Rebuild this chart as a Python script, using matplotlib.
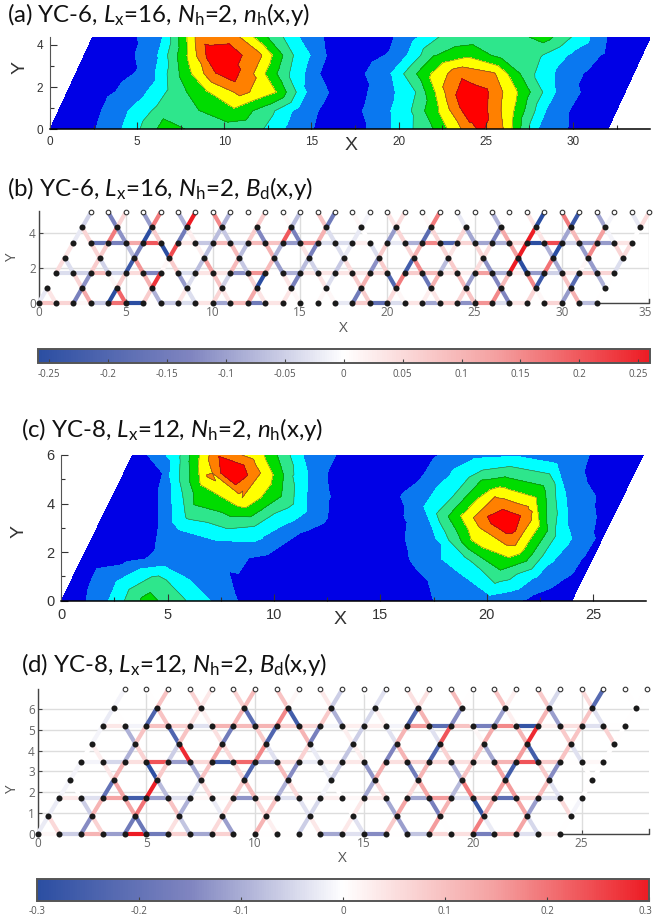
import numpy as np
import matplotlib
matplotlib.use("Agg")
import matplotlib.pyplot as plt
from matplotlib.collections import LineCollection
from matplotlib.colors import LinearSegmentedColormap, Normalize
from matplotlib.cm import ScalarMappable
from matplotlib.ticker import MultipleLocator
from matplotlib.transforms import ScaledTranslation

# hole density, bottom row first, u = 0, 2, 4, ...
a_rows = [
    [0.0, 0.6, 1.9, 3.8, 3.9, 3.5, 3.2, 1.5, 0.6, 0.9, 2.3, 4.0, 6.5, 6.0, 2.0, 0.8, 0.0],
    [0.2, 0.7, 2.0, 3.5, 3.95, 4.8, 3.4, 1.4, 0.5, 1.2, 2.7, 5.3, 7.8, 5.2, 1.9, 0.5, 0.0],
    [0.4, 0.7, 1.5, 3.3, 4.9, 6.3, 5.0, 1.5, 0.5, 1.3, 3.0, 6.6, 7.2, 4.8, 2.0, 0.6, 0.0],
    [0.3, 0.6, 1.2, 4.1, 6.9, 6.3, 3.3, 1.0, 0.6, 1.9, 4.6, 6.7, 6.1, 3.3, 1.5, 0.6, 0.0],
    [0.2, 0.5, 1.6, 5.2, 7.8, 6.3, 3.0, 0.9, 0.5, 1.3, 3.9, 4.8, 3.6, 3.2, 1.8, 0.8, 0.0],
    [0.2, 0.6, 2.0, 6.3, 6.5, 4.0, 1.8, 0.5, 0.3, 1.4, 3.1, 3.4, 3.6, 4.4, 2.5, 0.5, 0.0],
]
a_peak_x = [9.8, 24.4, 24.7, 6.5, 6.5]
a_peak_y = [3.3, 1.2, 0.0, 0.0, 0.5]
a_peak_z = [8.5, 8.5, 7.2, 4.6, 4.0]

c_rows = [
    [0.0, 1.7, 4.4, 2.9, 1.1, 0.4, 0.2, 0.2, 0.4, 1.2, 1.9, 0.8, 0.0],
    [0.3, 1.8, 3.4, 1.6, 0.8, 0.3, 0.2, 0.2, 0.7, 1.5, 3.2, 1.6, 0.5],
    [0.3, 0.7, 1.3, 1.3, 0.9, 0.3, 0.2, 0.3, 1.3, 2.8, 4.9, 2.2, 0.6],
    [0.2, 0.5, 1.9, 2.1, 2.0, 0.8, 0.2, 0.6, 1.7, 5.4, 6.2, 2.5, 0.7],
    [0.2, 0.6, 3.1, 3.9, 2.8, 1.3, 0.3, 0.8, 3.5, 6.9, 6.5, 1.8, 0.5],
    [0.2, 0.7, 4.3, 5.7, 3.9, 1.1, 0.3, 1.2, 3.0, 6.0, 4.9, 1.4, 0.3],
    [0.1, 1.5, 6.1, 6.8, 3.0, 0.8, 0.2, 0.9, 2.5, 3.9, 3.2, 0.8, 0.2],
    [0.2, 2.5, 6.9, 5.3, 2.0, 0.7, 0.2, 0.8, 1.8, 1.9, 1.8, 0.7, 0.0],
]
c_peak_x = [8.0, 20.9, 20.03, 20.75, 21.59, 21.36, 19.37, 20.47, 22.14, 21.33, 19.65, 18.77, 20.18, 22.35, 22.42,
            20.94, 19.13, 18.19, 19.76, 22.77, 22.82, 20.65, 18.82, 17.64, 19.81, 23.21, 23.26, 20.39, 18.04,
            17.05, 19.45, 23.29, 23.71, 20.15, 17.49,
            7.1, 9.37, 8.5, 6.43, 9.96, 8.3, 6.53, 6.04, 10.45, 8.49, 6.24, 5.55, 10.94, 9.08, 5.84,
            5.16, 11.59, 9.47, 7.5, 5.55, 12.5, 11.2, 9.67, 4.57, 4.76]
c_peak_y = [5.26, 3.4, 3.46, 3.76, 3.50, 2.88, 3.42, 4.24, 3.66, 2.26, 3.02, 3.48, 4.58, 4.05, 3.59,
            1.81, 2.91, 3.46, 4.97, 4.49, 3.73, 1.26, 2.43, 3.59, 5.38, 4.83, 4.14, 0.71, 2.84,
            3.87, 5.86, 5.65, 4.42, 0.23, 2.91,
            5.26, 5.26, 4.23, 5.54, 5.19, 3.88, 4.78, 5.26, 5.19, 3.47, 3.95, 4.99, 5.19, 3.06, 3.47,
            4.85, 5.26, 2.64, 2.48, 2.92, 5.26, 2.78, 1.89, 3.06, 5.26]
c_peak_z = [8.3, 8.3, 7, 7, 7, 7, 6, 6, 6, 6, 6, 5, 5, 5, 5,
            5, 5, 4, 4, 4, 4, 4, 4, 3, 3, 3, 3, 3, 3,
            2, 2, 2, 2, 2, 2,
            6, 6, 6, 5, 5, 5, 5, 4, 4, 4, 4, 3, 3, 3, 3,
            2, 2, 2, 2, 2, 1, 1, 1, 1, 1]

# bond strength, horizontal rows then zig-zag layers
b_h0 = [7, 5, 1, -5, 15, -24, 0, -5, -3, 3, -8, 8, -13, 3, 0, 0, 0, -2, 6, -15, -3, 3, -8, 6, -10, 12, -3, 3, 0, 5, 0, -6]
b_h1 = [-3, -4, 8, -4, 4, -11, 0, -3, 3, 3, -10, 12, 0, -7, 3, 3, 3, 3, 4, 0, 6, 8, 3, 2, 11, -7, 2, -9, -4, 3, 6, 5]
b_h2 = [0, -14, -12, 10, 17, 0, 3, -5, 8, -4, 8, 7, -9, 12, -3, -3, 2, 0, -2, -7, 13, -17, 5, -8, -7, 4, -24, 18, -4, -9, -9, 3]
b_d0 = [-2, 3, -12, 10, -24, 16, 6, -7, 3, -3, 5, 3, 10, 3, 3, 1, 1, 1, -13, 6, 4, 1, 2, 3, 5, 7, 13, -11, 5, 1, -9, 9, 0]
b_d1 = [0, 5, -10, 1, 6, 9, 20, -9, -3, 7, -4, 5, -24, 3, -12, 3, -3, 6, 9, -17, 14, -14, 9, 8, -9, -11, 8, 13, -20, 7, -16, -7, 0]
b_d2 = [4, -3, 6, -4, -20, 12, 1, 6, -6, 11, 8, -5, 8, -9, -6, -4, -5, 4, -10, 6, -19, 13, -6, 6, 4, -10, 25, -22, 15, -8, 1, -9, -3]
b_d3 = [3, 5, 6, -6, -12, -22, 18, 2, -6, 8, -6, 9, -7, 3, -12, -3, -2, -3, 6, 5, 9, 5, 3, 5, 4, 11, 24, -7, -22, -9, 13, 5, 4]
b_d4 = [-2, 5, 14, -10, -23, 6, -13, 2, -6, -5, 6, -11, 17, -12, 9, -3, -2, 0, -9, 5, -16, 5, 5, -8, -12, 10, 25, 3, -8, 8, 11, -1, 0]
b_d5 = [-4, -12, 5, -9, 14, -7, 25, 13, -7, 0, 6, 1, -6, 7, -13, 1, -1, 3, 4, 1, 14, -2, 0, -7, 0, 3, -22, 14, -20, -8, -1, -2, 4]

d_h0 = [1, -5, 10, -10, 30, -15, 6, -9, 6, 0, 0, 0, 0, -9, -3, -12, 0, -6, 5, 4, -14, 10, -3, 2]
d_h1 = [3, -3, 12, -22, -10, -3, 1, 1, -11, 3, -3, 1, 2, 1, 3, 0, -9, 13, -3, 7, -18, 5, -3, 0]
d_h2 = [-1, -4, 4, 20, -10, 5, -22, 18, -10, 4, -2, 2, 3, 0, 4, 6, 5, 4, 3, 10, 20, 7, 0, 1]
d_h3 = [3, -1, 8, 6, -3, 10, 9, 10, 6, 5, -1, 2, 2, -1, 13, -18, 8, -14, 15, -24, 2, 4, -3, 0]
d_d0 = [-2, 5, -12, 6, -15, -16, 4, -6, 5, -10, 10, 2, -5, 3, 3, -3, 7, -10, 13, 0, 16, -2, 12, -4, 0]
d_d1 = [-2, -5, 10, 12, 17, 8, -8, -2, 5, 5, 8, -3, -4, 0, 3, -9, 12, -14, 10, -24, 11, 12, -10, 5, -1]
d_d2 = [-1, 0, -17, 12, 25, -7, -4, 5, 7, 9, -8, 5, -1, 0, -9, 5, 5, 12, -7, 16, 13, 13, 9, -3, 0]
d_d3 = [-1, 3, 10, -25, 7, -9, 8, 5, -20, 9, -12, -2, -5, -11, 11, -15, 10, -8, 8, 12, -22, 7, -12, 0, 0]
d_d4 = [0, 2, -8, 6, -5, 24, 12, 5, 15, -3, 6, -2, -6, 2, -13, 10, -20, 6, 8, -9, 13, -22, 8, -3, 0]
d_d5 = [-1, -8, 8, -20, 8, 4, -15, 7, -20, 10, -14, 2, -5, -3, 10, -3, 20, 1, 11, 10, 24, 7, 8, 6, 0]
d_d6 = [-2, 0, -20, 8, 4, 2, 10, -18, 15, -22, 7, -8, -4, 2, -20, 10, -12, 0, -10, 2, 10, -10, 8, -3, 0]
d_d7 = [-1, 0, 8, 6, 3, 6, 9, 8, 1, 3, -5, 0, -3, 4, 4, 9, 0, 8, 2, 7, -4, 5, -19, 0, 0]

b_cbar_ticks = [-0.25, -0.2, -0.15, -0.1, -0.05, 0, 0.05, 0.1, 0.15, 0.2, 0.25]
b_cbar_labels = ["-0.25", "-0.2", "-0.15", "-0.1", "-0.05", "0", "0.05", "0.1", "0.15", "0.2", "0.25"]
d_cbar_ticks = [-0.3, -0.2, -0.1, 0, 0.1, 0.2, 0.3]
d_cbar_labels = ["-0.3", "-0.2", "-0.1", "0", "0.1", "0.2", "0.3"]

contour_levels = [-1, 1, 2, 3, 4, 5, 6, 7, 10]
contour_colors = ["#0000e6", "#0a78f0", "#00ffff", "#2ee68c", "#00dc00", "#ffff00", "#ff8000", "#ff0000"]
SHEAR = 0.56
BOND_UNIT = 85.0
W, H = 653, 923

plt.rcParams["mathtext.fontset"] = "custom"
plt.rcParams["mathtext.rm"] = "Lato"
plt.rcParams["mathtext.it"] = "Lato:italic"

bond_cmap = LinearSegmentedColormap.from_list(
    "bond", ["#2b4ea2", "#8085c0", "#ffffff", "#f4a0a0", "#ed1c24"]
)
fig = plt.figure(figsize=(W / 100, H / 100), dpi=100)


def px_axes(left, right, top, bottom):
    return fig.add_axes([left / W, 1 - bottom / H, (right - left) / W, (bottom - top) / H])


def title(x, y, s):
    fig.text(x / W, 1 - y / H, s, family="Lato", fontsize=17.3, color="#111111", va="center")


def nudge_last_label(ax, px):
    # keep the last label inside the picture, as it sits right at the edge
    lab = ax.get_xticklabels()[-1]
    lab.set_ha("right")
    lab.set_transform(lab.get_transform() + ScaledTranslation(px / 100, 0, fig.dpi_scale_trans))


def contour_panel(box, xmax, ymax, xticks, yticks, rows, du, peak_x, peak_y, peak_z, xlabel_pos, ylabel_pos, size):
    ax = px_axes(*box)
    z = np.array(rows)
    ys = np.linspace(0, ymax, z.shape[0])
    us = np.arange(z.shape[1]) * du
    uu, yy = np.meshgrid(us, ys)
    xs = np.r_[(uu + SHEAR * yy).ravel(), peak_x]
    yp = np.r_[yy.ravel(), peak_y]
    zs = np.r_[z.ravel(), peak_z]
    ax.tricontourf(xs, yp, zs, levels=contour_levels, colors=contour_colors)
    ax.tricontour(xs, yp, zs, levels=contour_levels[3:-1], colors="#1a3a3a", linewidths=0.4, alpha=0.7)
    ax.set_xlim(0, xmax)
    ax.set_ylim(0, ymax)
    ax.set_xticks(xticks)
    ax.set_yticks(yticks)
    ax.xaxis.set_minor_locator(MultipleLocator(2.5))
    ax.yaxis.set_minor_locator(MultipleLocator(1))
    ax.tick_params(which="major", direction="in", length=5, width=0.8, colors="#333333", labelsize=size, pad=5)
    ax.tick_params(which="minor", direction="in", length=3, width=0.8, colors="#333333")
    for lab in ax.get_xticklabels() + ax.get_yticklabels():
        lab.set_family("Liberation Sans")
    ax.spines["top"].set_visible(False)
    ax.spines["right"].set_visible(False)
    ax.spines["left"].set_color("#555555")
    ax.spines["bottom"].set_linewidth(1.1)
    fig.text(xlabel_pos[0] / W, 1 - xlabel_pos[1] / H, "X", family="Liberation Sans", fontsize=14,
             color="#333333", ha="center", va="center")
    fig.text(ylabel_pos[0] / W, 1 - ylabel_pos[1] / H, "Y", family="Liberation Sans", fontsize=14,
             color="#333333", ha="center", va="center", rotation=90)


def bond_panel(box, xmax, ymax, n_cells, n_rows, hrows, layers, vmax, xticks, yticks, xlabel_pos, ylabel_pos):
    ax = px_axes(*box)
    h = np.sqrt(3)
    segs, vals = [], []
    for k, row in enumerate(hrows):
        for i, v in enumerate(row):
            segs.append([(k + i, k * h), (k + i + 1, k * h)])
            vals.append(v)
    for n, layer in enumerate(layers):
        k = n // 2
        for i, v in enumerate(layer):
            if n % 2 == 0:
                x = k + i
                other = x + 0.5 if i % 2 == 0 else x - 0.5
                segs.append([(x, k * h), (other, (k + 0.5) * h)])
            else:
                x = k + 1 + i
                other = x - 0.5 if i % 2 == 0 else x + 0.5
                segs.append([(other, (k + 0.5) * h), (x, (k + 1) * h)])
            vals.append(v)
    norm = Normalize(-vmax, vmax)
    lc = LineCollection(segs, cmap=bond_cmap, norm=norm, linewidths=3.0, zorder=3, clip_on=False, capstyle="butt")
    lc.set_array(np.array(vals) / BOND_UNIT)
    ax.add_collection(lc)
    for k in range(n_rows):
        xi = k + np.arange(n_cells + 1)
        ax.scatter(xi, np.full_like(xi, k * h, dtype=float), s=19, c="#1a1a1a", zorder=4, clip_on=False, linewidths=0)
        xo = k + 0.5 + 2 * np.arange(n_cells // 2 + 1)
        ax.scatter(xo, np.full_like(xo, (k + 0.5) * h, dtype=float), s=19, c="#1a1a1a", zorder=4, clip_on=False,
                   linewidths=0)
    xt = n_rows + np.arange(n_cells + 1)
    ax.scatter(xt, np.full_like(xt, n_rows * h, dtype=float), s=11, facecolors="white", edgecolors="#333333",
               linewidths=0.8, zorder=4, clip_on=False)
    ax.set_xlim(0, xmax)
    ax.set_ylim(0, ymax)
    ax.set_xticks(xticks)
    ax.set_yticks(yticks)
    ax.grid(True, color="#dddddd", linewidth=1.0, zorder=0)
    ax.set_axisbelow(True)
    ax.tick_params(direction="in", length=3, width=0.8, color="#444444", labelcolor="#666666", labelsize=8.5, pad=2)
    for lab in ax.get_xticklabels() + ax.get_yticklabels():
        lab.set_family("Open Sans")
    for s in ["top", "right", "bottom"]:
        ax.spines[s].set_visible(False)
    ax.spines["left"].set_color("#444444")
    ax.spines["left"].set_linewidth(1.0)
    # only the stretch right of the last site shows the bottom axis
    ax.plot([n_cells, xmax, xmax], [0, 0, 0.25], color="#444444", lw=1.0, clip_on=False, zorder=2)
    fig.text(xlabel_pos[0] / W, 1 - xlabel_pos[1] / H, "X", family="Open Sans", fontsize=11, color="#555555",
             ha="center", va="center")
    fig.text(ylabel_pos[0] / W, 1 - ylabel_pos[1] / H, "Y", family="Open Sans", fontsize=11, color="#555555",
             ha="center", va="center", rotation=90)
    if xticks[-1] == xmax:
        nudge_last_label(ax, 3)


def colorbar(box, vmax, ticks, labels):
    cax = px_axes(*box)
    cb = fig.colorbar(ScalarMappable(norm=Normalize(-vmax, vmax), cmap=bond_cmap), cax=cax, orientation="horizontal")
    cb.set_ticks(ticks)
    cb.set_ticklabels(labels)
    cax.tick_params(direction="in", length=3, width=0.8, color="#444444", labelcolor="#555555", labelsize=7, pad=4)
    for lab in cax.get_xticklabels():
        lab.set_family("Open Sans")
    cb.outline.set_edgecolor("#555555")
    cb.outline.set_linewidth(1.4)
    if ticks[-1] == vmax:
        nudge_last_label(cax, 3)


title(7, 15, r"(a) YC-6, $\mathit{L}_{\mathrm{x}}$=16, $\mathit{N}_{\mathrm{h}}$=2, $\mathit{n}_{\mathrm{h}}$(x,y)")
contour_panel((50, 650, 36.7, 129.3), 34.42, 4.39, [0, 5, 10, 15, 20, 25, 30], [0, 2, 4],
              a_rows, 2, a_peak_x, a_peak_y, a_peak_z, (351, 146), (20, 68), 8.5)

title(7, 189, r"(b) YC-6, $\mathit{L}_{\mathrm{x}}$=16, $\mathit{N}_{\mathrm{h}}$=2, $\mathit{B}_{\mathrm{d}}$(x,y)")
bond_panel((38.5, 649, 210.5, 303.3), 35, 5.3, 32, 3,
           [b_h0, b_h1, b_h2], [b_d0, b_d1, b_d2, b_d3, b_d4, b_d5], 0.26,
           [0, 5, 10, 15, 20, 25, 30, 35], [0, 2, 4], (343, 329), (13, 258))
colorbar((37.5, 650, 349, 363.3), 0.26, b_cbar_ticks, b_cbar_labels)

title(21, 429, r"(c) YC-8, $\mathit{L}_{\mathrm{x}}$=12, $\mathit{N}_{\mathrm{h}}$=2, $\mathit{n}_{\mathrm{h}}$(x,y)")
contour_panel((61.3, 646, 455, 600.7), 27.49, 6.0, [0, 5, 10, 15, 20, 25], [0, 2, 4, 6],
              c_rows, 2, c_peak_x, c_peak_y, c_peak_z, (340, 620), (19, 531), 10.5)

title(21, 665, r"(d) YC-8, $\mathit{L}_{\mathrm{x}}$=12, $\mathit{N}_{\mathrm{h}}$=2, $\mathit{B}_{\mathrm{d}}$(x,y)")
bond_panel((37.5, 649, 689, 834), 28.1, 6.95, 24, 4,
           [d_h0, d_h1, d_h2, d_h3], [d_d0, d_d1, d_d2, d_d3, d_d4, d_d5, d_d6, d_d7], 0.3,
           [0, 5, 10, 15, 20, 25], [0, 1, 2, 3, 4, 5, 6], (342, 859), (13, 790))
colorbar((36.7, 649, 879, 900.7), 0.3, d_cbar_ticks, d_cbar_labels)

fig.savefig("out.png", dpi=100)
